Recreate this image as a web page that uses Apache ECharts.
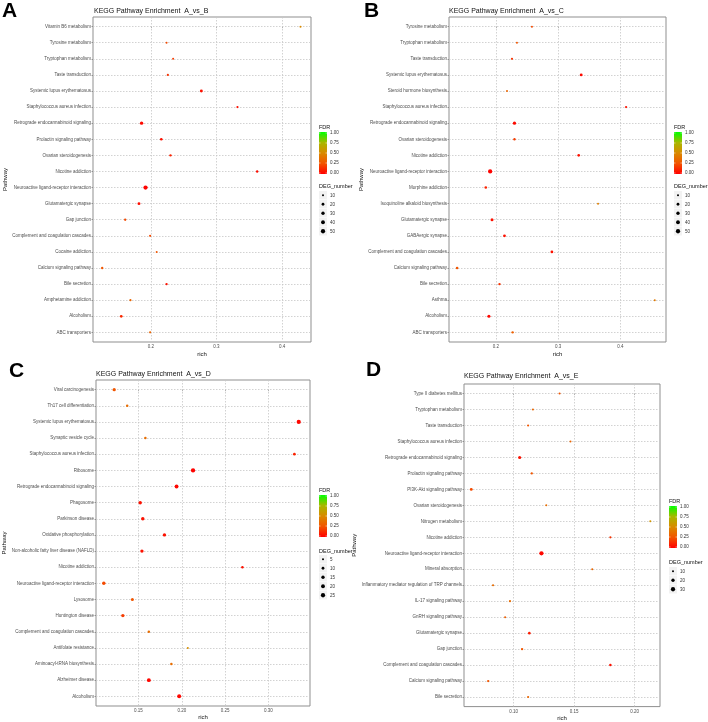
<!DOCTYPE html>
<html><head><meta charset="utf-8">
<script src="https://cdn.jsdelivr.net/npm/echarts@6/dist/echarts.min.js"></script>
<style>html,body{margin:0;padding:0;background:#fff}#c{width:708px;height:722px}</style>
</head><body><div id="c"></div>
<script>
// ---------- Panel A: A_vs_B ----------
const catsA = ['Vitamin B6 metabolism','Tyrosine metabolism','Tryptophan metabolism','Taste transduction','Systemic lupus erythematosus','Staphylococcus aureus infection','Retrograde endocannabinoid signaling','Prolactin signaling pathway','Ovarian steroidogenesis','Nicotine addiction','Neuroactive ligand-receptor interaction','Glutamatergic synapse','Gap junction','Complement and coagulation cascades','Cocaine addiction','Calcium signaling pathway','Bile secretion','Amphetamine addiction','Alcoholism','ABC transporters'];
const richA = [0.428,0.224,0.234,0.226,0.277,0.332,0.186,0.216,0.230,0.362,0.192,0.182,0.161,0.199,0.209,0.126,0.224,0.169,0.155,0.199];
const fdrA  = [0.50,0.22,0.18,0.15,0.05,0.05,0.03,0.05,0.10,0.04,0.01,0.04,0.22,0.22,0.26,0.26,0.05,0.33,0.12,0.33];
const degA  = [10,10,10,12,22,12,30,18,14,15,50,22,14,12,10,14,14,12,20,12];
const xTicksA = ['0.2','0.3','0.4'];
const degLegendA = [10,20,30,40,50];

// ---------- Panel B: A_vs_C ----------
const catsB = ['Tyrosine metabolism','Tryptophan metabolism','Taste transduction','Systemic lupus erythematosus','Steroid hormone biosynthesis','Staphylococcus aureus infection','Retrograde endocannabinoid signaling','Ovarian steroidogenesis','Nicotine addiction','Neuroactive ligand-receptor interaction','Morphine addiction','Isoquinoline alkaloid biosynthesis','Glutamatergic synapse','GABAergic synapse','Complement and coagulation cascades','Calcium signaling pathway','Bile secretion','Asthma','Alcoholism','ABC transporters'];
const richB = [0.258,0.234,0.226,0.337,0.218,0.409,0.230,0.230,0.333,0.191,0.184,0.364,0.194,0.214,0.290,0.138,0.206,0.455,0.189,0.227];
const fdrB  = [0.22,0.26,0.15,0.03,0.33,0.05,0.03,0.18,0.05,0.01,0.10,0.45,0.05,0.05,0.05,0.26,0.15,0.42,0.02,0.30];
const degB  = [10,10,12,22,10,12,28,14,18,50,18,10,24,20,20,18,14,10,26,14];
const xTicksB = ['0.2','0.3','0.4'];
const degLegendB = [10,20,30,40,50];

// ---------- Panel C: A_vs_D ----------
const catsC = ['Viral carcinogenesis','Th17 cell differentiation','Systemic lupus erythematosus','Synaptic vesicle cycle','Staphylococcus aureus infection','Ribosome','Retrograde endocannabinoid signaling','Phagosome','Parkinson disease','Oxidative phosphorylation','Non-alcoholic fatty liver disease (NAFLD)','Nicotine addiction','Neuroactive ligand-receptor interaction','Lysosome','Huntington disease','Complement and coagulation cascades','Antifolate resistance','Aminoacyl-tRNA biosynthesis','Alzheimer disease','Alcoholism'];
const richC = [0.122,0.137,0.335,0.158,0.330,0.213,0.194,0.152,0.155,0.180,0.154,0.270,0.110,0.143,0.132,0.162,0.207,0.188,0.162,0.197];
const fdrC  = [0.26,0.36,0.02,0.36,0.10,0.01,0.02,0.05,0.05,0.05,0.05,0.05,0.22,0.26,0.18,0.36,0.52,0.36,0.02,0.02];
const degC  = [14,8,24,8,10,25,20,16,16,15,15,8,16,12,15,8,5,8,20,22];
const xTicksC = ['0.15','0.20','0.25','0.30'];
const degLegendC = [5,10,15,20,25];

// ---------- Panel D: A_vs_E ----------
const catsD = ['Type II diabetes mellitus','Tryptophan metabolism','Taste transduction','Staphylococcus aureus infection','Retrograde endocannabinoid signaling','Prolactin signaling pathway','PI3K-Akt signaling pathway','Ovarian steroidogenesis','Nitrogen metabolism','Nicotine addiction','Neuroactive ligand-receptor interaction','Mineral absorption','Inflammatory mediator regulation of TRP channels','IL-17 signaling pathway','GnRH signaling pathway','Glutamatergic synapse','Gap junction','Complement and coagulation cascades','Calcium signaling pathway','Bile secretion'];
const richD = [0.138,0.116,0.112,0.147,0.105,0.115,0.065,0.127,0.213,0.180,0.123,0.165,0.083,0.097,0.093,0.113,0.107,0.180,0.079,0.112];
const fdrD  = [0.26,0.33,0.26,0.33,0.05,0.26,0.22,0.36,0.55,0.15,0.02,0.33,0.36,0.36,0.30,0.08,0.26,0.05,0.26,0.33];
const degD  = [10,10,11,10,18,12,16,10,10,11,30,10,11,11,10,14,12,13,12,11];
const xTicksD = ['0.10','0.15','0.20'];
const degLegendD = [10,20,30];

const fdrTicks = ['1.00','0.75','0.50','0.25','0.00'];
const fdrColors = ['#ff0000','#f25400','#d98a00','#a8b800','#00ff00'];

const FONT = 'Liberation Sans, Arial, sans-serif';

const panels = [
  {letter:'A', title:'KEGG Pathway Enrichment  A_vs_B', cats:catsA, rich:richA, fdr:fdrA, deg:degA, ticks:xTicksA, leg:degLegendA,
   grid:{left:93, top:17, width:218, height:325}, xMin:0.112, xMax:0.444, letterPos:[2,1], titlePos:[94,8], nameGap:84, richGap:9,
   lg:{x:319, fdrTop:124, barTop:132, degTop:183, keyTop:191}},
  {letter:'B', title:'KEGG Pathway Enrichment  A_vs_C', cats:catsB, rich:richB, fdr:fdrB, deg:degB, ticks:xTicksB, leg:degLegendB,
   grid:{left:449, top:17, width:217, height:325}, xMin:0.125, xMax:0.473, letterPos:[364,1], titlePos:[449,8], nameGap:84, richGap:9,
   lg:{x:674, fdrTop:124, barTop:132, degTop:183, keyTop:191}},
  {letter:'C', title:'KEGG Pathway Enrichment  A_vs_D', cats:catsC, rich:richC, fdr:fdrC, deg:degC, ticks:xTicksC, leg:degLegendC,
   grid:{left:96, top:380, width:214, height:326}, xMin:0.101, xMax:0.348, letterPos:[9,361], titlePos:[96,371], nameGap:85, richGap:8,
   lg:{x:319, fdrTop:487, barTop:495, degTop:548, keyTop:555}},
  {letter:'D', title:'KEGG Pathway Enrichment  A_vs_E', cats:catsD, rich:richD, fdr:fdrD, deg:degD, ticks:xTicksD, leg:degLegendD,
   grid:{left:464, top:384, width:196, height:324}, xMin:0.059, xMax:0.221, letterPos:[366,360], titlePos:[464,373], nameGap:99, richGap:8,
   lg:{x:669, fdrTop:498, barTop:506, degTop:559, keyTop:567}}
];

function sizeFn(v, lo, hi){
  const dmin = 2.0, dmax = 4.3;
  const t = hi > lo ? (v - lo) / (hi - lo) : 0.5;
  return Math.sqrt(dmin*dmin + t*(dmax*dmax - dmin*dmin));
}

const gridLine = {type:[1.5,1.5], color:'#c6c6c6', width:0.8};

const option = {
  backgroundColor:'#ffffff',
  animation:false,
  textStyle:{fontFamily:FONT},
  title:[], grid:[], xAxis:[], yAxis:[], series:[], visualMap:[], graphic:[]
};

panels.forEach((p, i) => {
  const n = p.cats.length;
  const idx = p.cats.map((_, k) => k);
  const lo = Math.min(...p.leg, ...p.deg), hi = Math.max(...p.leg, ...p.deg);
  option.title.push({text:p.letter, left:p.letterPos[0], top:p.letterPos[1], padding:0,
    textStyle:{fontSize:21, fontWeight:'bold', color:'#000', fontFamily:FONT}});
  option.title.push({text:p.title, left:p.titlePos[0], top:p.titlePos[1], padding:0,
    textStyle:{fontSize:7, fontWeight:'normal', color:'#111', fontFamily:FONT}});
  option.grid.push(Object.assign({show:true, borderColor:'#8f8f8f', borderWidth:1, backgroundColor:'#fff'}, p.grid));
  const tickVals = p.ticks.map(Number);
  option.xAxis.push({
    type:'value', gridIndex:i, min:p.xMin, max:p.xMax,
    name:'rich', nameLocation:'middle', nameGap:p.richGap,
    nameTextStyle:{fontSize:6, color:'#111', fontFamily:FONT},
    axisLine:{show:false},
    axisTick:{show:true, customValues:tickVals, length:1.5, lineStyle:{color:'#666', width:0.6}},
    axisLabel:{show:true, customValues:tickVals, fontSize:4.5, color:'#4d4d4d', margin:2.5, fontFamily:FONT,
      formatter:v => { const k = tickVals.findIndex(t => Math.abs(t - v) < 1e-9); return k >= 0 ? p.ticks[k] : ''; }},
    splitLine:{show:false}
  });
  option.yAxis.push({
    type:'value', gridIndex:i, min:-0.6, max:n - 1 + 0.6, inverse:true,
    name:'Pathway', nameLocation:'middle', nameGap:p.nameGap, nameRotate:90,
    nameTextStyle:{fontSize:6, color:'#111', fontFamily:FONT},
    axisLine:{show:false},
    axisTick:{show:true, customValues:idx, length:1.5, lineStyle:{color:'#666', width:0.6}},
    axisLabel:{show:true, customValues:idx, fontSize:4.5, color:'#4d4d4d', margin:2, fontFamily:FONT,
      formatter:v => p.cats[Math.round(v)] || ''},
    splitLine:{show:false}
  });
  option.series.push({
    type:'scatter', xAxisIndex:i, yAxisIndex:i,
    data:p.rich.map((r, k) => [r, k, p.fdr[k], p.deg[k]]),
    symbol:'circle',
    symbolSize:val => sizeFn(val[3], lo, hi),
    itemStyle:{opacity:1},
    z:3,
    markLine:{
      silent:true, symbol:['none','none'], animation:false, label:{show:false},
      lineStyle:gridLine, z:1,
      data:[...tickVals.map(t => ({xAxis:t})), ...idx.map(k => ({yAxis:k}))]
    }
  });
  option.visualMap.push({type:'continuous', show:false, seriesIndex:i, dimension:2, min:0, max:1,
    inRange:{color:fdrColors}});

  // Legend: FDR colourbar
  const L = p.lg;
  option.graphic.push({type:'text', left:L.x, top:L.fdrTop, style:{text:'FDR', fontSize:5.5, fill:'#111', fontFamily:FONT}});
  const barH = 42;
  option.graphic.push({type:'rect', shape:{x:L.x, y:L.barTop, width:8, height:barH},
    style:{fill:new echarts.graphic.LinearGradient(0,1,0,0, fdrColors.map((c,k)=>({offset:k/(fdrColors.length-1), color:c})))}});
  fdrTicks.forEach((t, k) => {
    const y = L.barTop + 1 + k * (barH - 2) / (fdrTicks.length - 1);
    option.graphic.push({type:'text', left:L.x + 11, top:y - 2.5, style:{text:t, fontSize:4.5, fill:'#333', fontFamily:FONT}});
    option.graphic.push({type:'line', shape:{x1:L.x, y1:y, x2:L.x + 1.5, y2:y}, style:{stroke:'#fff', lineWidth:0.5}});
    option.graphic.push({type:'line', shape:{x1:L.x + 6.5, y1:y, x2:L.x + 8, y2:y}, style:{stroke:'#fff', lineWidth:0.5}});
  });
  // Legend: DEG_number size keys
  option.graphic.push({type:'text', left:L.x, top:L.degTop, style:{text:'DEG_number', fontSize:5.5, fill:'#111', fontFamily:FONT}});
  p.leg.forEach((v, k) => {
    const y = L.keyTop + k * 9;
    option.graphic.push({type:'rect', shape:{x:L.x, y:y, width:8, height:8.5}, style:{fill:'#f2f2f2'}});
    option.graphic.push({type:'circle', shape:{cx:L.x + 4, cy:y + 4.25, r:sizeFn(v, lo, hi) / 2}, style:{fill:'#000'}});
    option.graphic.push({type:'text', left:L.x + 11, top:y + 1.8, style:{text:String(v), fontSize:4.5, fill:'#333', fontFamily:FONT}});
  });
});

const chart = echarts.init(document.getElementById('c'), null, {renderer:'canvas'});
chart.setOption(option);
</script>
</body></html>
